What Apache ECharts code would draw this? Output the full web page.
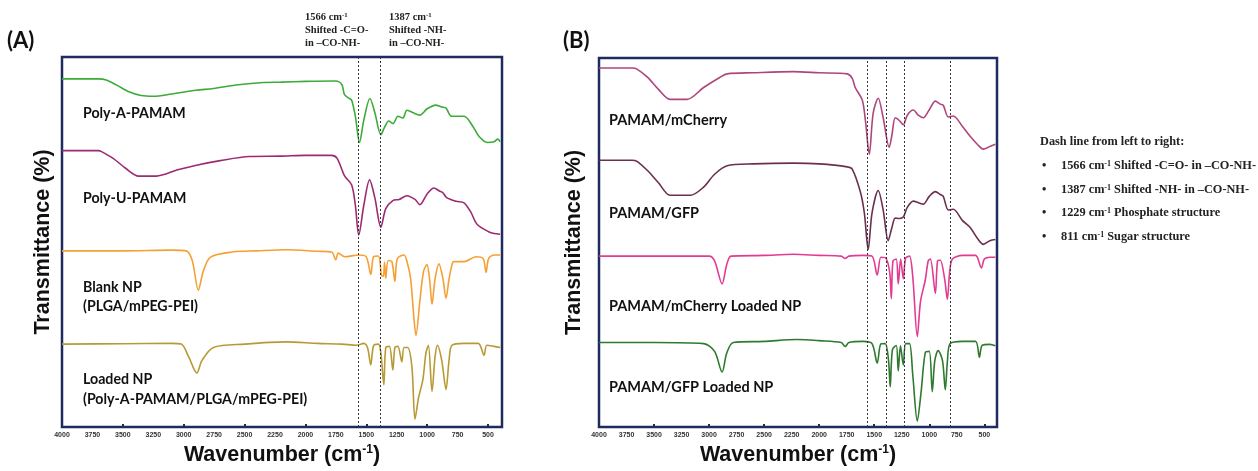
<!DOCTYPE html>
<html><head><meta charset="utf-8">
<script src="https://cdn.jsdelivr.net/npm/echarts@6/dist/echarts.min.js"></script>
<style>html,body{margin:0;padding:0;background:#fff}#c{width:1258px;height:471px}</style>
</head><body><div id="c"></div>
<script>
// ---- tick labels ----
const tickLabels = [4000,3750,3500,3250,3000,2750,2500,2250,2000,1750,1500,1250,1000,750,500];
const tickMarks = [4000,3500,3000,2500,2000,1500,1000,500];
const dashLinesA = [1566,1387];
const dashLinesB = [1566,1387,1229,811];

// ---- series names ----
const namesA = ['Poly-A-PAMAM','Poly-U-PAMAM','Blank NP (PLGA/mPEG-PEI)','Loaded NP (Poly-A-PAMAM/PLGA/mPEG-PEI)'];
const namesB = ['PAMAM/mCherry','PAMAM/GFP','PAMAM/mCherry Loaded NP','PAMAM/GFP Loaded NP'];

// ---- Panel A spectra [wavenumber, offset transmittance] ----
const polyA = [[4000,94.1],[3700,94.1],[3637,93.8],[3550,92.4],[3450,90.6],[3350,89.6],[3250,89.4],[3100,90.0],[2900,91.0],[2756,91.5],[2550,92.5],[2344,93.1],[2200,93.2],[2000,93.4],[1750,93.5],[1700,92.5],[1680,89.9],[1640,88.8],[1620,88.3],[1590,84],[1556,76.9],[1520,83],[1470,88.8],[1430,85],[1380,79.0],[1350,81],[1315,82.7],[1280,82],[1240,84],[1200,83.5],[1166,85.6],[1120,85],[1060,84.3],[1000,86],[930,87.0],[880,86.5],[845,86.2],[800,84.0],[697,84.0],[620,81],[573,78.5],[507,76.9],[450,77.1],[420,77.8],[400,77.1]];
const polyU = [[4000,74.7],[3700,74.7],[3679,74.5],[3580,72.6],[3480,70.0],[3370,67.8],[3225,67.8],[3050,69.5],[2904,70.7],[2700,72.0],[2460,73.1],[2200,73.2],[2000,73.4],[1785,73.4],[1740,72.6],[1677,67.8],[1620,65.4],[1590,60],[1562,51.9],[1520,60],[1473,66.8],[1430,62],[1380,54.0],[1340,59],[1282,61.2],[1230,61.5],[1166,62.5],[1100,61.5],[1060,60.1],[1000,63],[944,64.6],[900,63.8],[870,63.3],[840,62.0],[760,61],[697,60.6],[640,58],[590,54.8],[491,52.7],[450,52.3],[400,52.1]];
const blankNP = [[4000,47.6],[3500,47.6],[3100,47.8],[2980,47.6],[2930,45],[2880,37.0],[2840,42],[2780,45.9],[2600,47.3],[2400,47.6],[2163,47.9],[1900,47.5],[1785,47.3],[1751,45.2],[1730,47.0],[1677,46.0],[1562,46.5],[1500,46],[1463,41.2],[1440,46],[1400,46.2],[1375,41],[1360,40.7],[1350,44.5],[1340,40.2],[1320,45.0],[1290,44.7],[1265,39.4],[1245,45.5],[1190,46.5],[1160,44],[1135,39.9],[1110,30],[1092,24.7],[1060,34],[1030,42],[1002,43.9],[980,40],[960,33.2],[935,40],[903,44.1],[870,40],[845,34.8],[820,40],[790,44.5],[770,44.7],[697,44.7],[600,46.0],[540,45.5],[516,41.8],[495,45.5],[450,46.5],[400,46.5]];
const loadedNP = [[4000,22.4],[3500,22.5],[3100,22.6],[3020,22.4],[2960,19],[2892,14.6],[2850,18],[2756,21.5],[2500,22.4],[2163,23.0],[1900,22.6],[1700,22.4],[1578,22.1],[1520,22.6],[1490,21.5],[1463,16.8],[1440,22],[1400,22.4],[1380,20],[1356,11.4],[1340,21.5],[1310,21.8],[1282,15.4],[1265,21.5],[1240,21.8],[1208,17.6],[1190,21.5],[1160,21.5],[1125,16.2],[1100,2.1],[1070,8],[1035,12.8],[1010,20],[990,22.1],[960,9.6],[935,19],[915,22.1],[880,18],[845,10.1],[820,18],[796,22.1],[700,22.6],[580,22.6],[533,19.4],[510,22.1],[450,21.8],[400,21.5]];

// ---- Panel B spectra ----
const mCherry = [[4000,97.3],[3700,97.3],[3655,97.0],[3560,94.8],[3460,91.5],[3355,88.8],[3200,88.8],[3050,92],[2900,94.8],[2836,95.7],[2600,96.0],[2236,96.3],[2000,96.0],[1745,95.7],[1700,94.5],[1673,92.0],[1609,88.6],[1580,83],[1545,73.9],[1510,85],[1464,89.1],[1420,84],[1364,75.8],[1340,79],[1309,83.8],[1270,83],[1236,81.9],[1200,84.5],[1145,85.9],[1100,84.5],[1055,83.8],[1000,86],[945,88.3],[900,87.5],[873,87.2],[827,84.0],[782,84.3],[700,81.5],[627,78.7],[560,76.5],[509,75.3],[450,76.0],[400,76.6]];
const gfp = [[4000,72.3],[3700,72.3],[3655,72.0],[3560,69.5],[3460,66.2],[3355,62.8],[3170,62.8],[3050,65],[2950,68.5],[2836,70.8],[2600,71.3],[2236,71.5],[2000,71.3],[1745,70.5],[1700,69.9],[1627,63.8],[1590,58],[1555,48.1],[1520,58],[1464,64.1],[1420,59],[1373,50.5],[1340,54],[1309,56.6],[1270,56.5],[1236,56.9],[1200,59.5],[1145,61.2],[1100,60.8],[1055,60.4],[1000,62.5],[945,63.8],[900,63.0],[873,62.5],[827,58.8],[782,59.0],[700,56],[627,54.0],[560,51],[509,49.5],[450,50.5],[400,50.8]];
const mCherryNP = [[4000,46.3],[3500,46.3],[3000,46.3],[2950,45],[2882,38.8],[2840,44],[2800,46.3],[2500,46.5],[2236,46.8],[2000,46.5],[1800,46.3],[1764,45.7],[1730,46.3],[1600,46.5],[1520,46.3],[1473,41.2],[1440,46],[1400,45.9],[1360,42],[1345,34.8],[1330,45],[1300,45.5],[1282,38.8],[1260,45.5],[1236,40.2],[1215,45.8],[1180,46.3],[1150,40.7],[1109,24.5],[1080,34],[1036,39.9],[1010,45.0],[990,45.5],[945,36.2],[925,45],[900,45.2],[860,40],[836,34.6],[815,42],[790,45.5],[700,46.5],[580,46.5],[527,43.1],[500,45.5],[450,46.0],[400,46.0]];
const gfpNP = [[4000,22.9],[3500,22.9],[3050,22.6],[2950,20.5],[2882,14.9],[2840,20],[2780,22.9],[2500,23.2],[2200,23.7],[2000,23.4],[1800,22.9],[1764,21.8],[1730,22.9],[1600,23.2],[1520,22.6],[1473,17.3],[1440,22.5],[1400,22.6],[1370,18],[1355,10.9],[1335,21],[1300,22.1],[1282,15.2],[1262,22],[1236,16.8],[1215,22.6],[1180,22.6],[1150,14.1],[1109,1.6],[1075,9.3],[1036,20.2],[1000,20.5],[973,9.6],[950,18],[920,20.7],[880,18],[855,10.1],[835,18],[810,22.6],[700,23.2],[580,23.2],[545,18.9],[520,22.1],[450,22.4],[400,22.0]];

const colorsA = ['#3dab3a','#9c2a73','#f5a033','#b89a35'];
const colorsB = ['#b0457d','#6b2f4f','#e13b92','#2f7a30'];

const chart = echarts.init(document.getElementById('c'), null, {renderer:'canvas'});
const navy = '#1f2b5e';
function xAx(gi){
  return {
    type:'value', gridIndex:gi, inverse:true, min:385, max:4000,
    axisLine:{show:false},
    axisTick:{show:true, inside:true, length:3, customValues:tickMarks, lineStyle:{color:navy,width:2}},
    axisLabel:{customValues:tickLabels, formatter:v=>String(v), fontSize:7, fontWeight:'bold', fontFamily:'Liberation Sans', color:'#333', margin:5},
    splitLine:{show:false},
    name:'Wavenumber (cm{s|-1})', nameLocation:'middle', nameGap:17,
    nameTextStyle:{fontSize:21.5, fontWeight:'bold', fontFamily:'Liberation Sans', color:'#111',
      rich:{s:{fontSize:12, fontWeight:'bold', fontFamily:'Liberation Sans', verticalAlign:'top', color:'#111'}}}
  };
}
function yAx(gi, gap){
  return {
    type:'value', gridIndex:gi, min:0, max:100,
    axisLine:{show:false}, axisTick:{show:false}, axisLabel:{show:false}, splitLine:{show:false},
    name:'Transmittance (%)', nameLocation:'middle', nameGap:gap,
    nameTextStyle:{fontSize:21.5, fontWeight:'bold', fontFamily:'Liberation Sans', color:'#111'}
  };
}
function ser(name, data, color, gi, marks){
  const s = {type:'line', name, data, xAxisIndex:gi, yAxisIndex:gi, showSymbol:false, smooth:0.3,
    lineStyle:{color, width:1.6}, itemStyle:{color}, silent:true, z:3};
  if (marks) s.markLine = {silent:true, symbol:'none', label:{show:false},
    lineStyle:{color:'#333', type:[2,2], width:1}, data: marks.map(v=>({xAxis:v}))};
  return s;
}
const seriesDataA = [polyA, polyU, blankNP, loadedNP];
const seriesDataB = [mCherry, gfp, mCherryNP, gfpNP];
const series = [];
seriesDataA.forEach((d,i)=>series.push(ser(namesA[i], d, colorsA[i], 0, i===0?dashLinesA:null)));
seriesDataB.forEach((d,i)=>series.push(ser(namesB[i], d, colorsB[i], 1, i===0?dashLinesB:null)));

function lbl(x,y,text,fs){ return {type:'text', x, y, style:{text, verticalAlign:'middle', fontSize:fs, fontWeight:'bold', fontFamily:'Lato', fill:'#111'}}; }
const serif = 'Liberation Serif';
function stxt(x,y,text,fs){
  const f = fs||10.5;
  return {type:'text', x, y, style:{text, fontSize:f, fontWeight:'bold', fontFamily:serif, fill:'#222', verticalAlign:'middle',
    rich:{s:{fontSize:f*0.65, fontWeight:'bold', fontFamily:serif, verticalAlign:'top', fill:'#222'}}}};
}

chart.setOption({
  animation:false,
  backgroundColor:'#fff',
  grid:[
    {left:62, right:756, top:57, bottom:38, show:true, borderColor:navy, borderWidth:2.5, backgroundColor:'transparent'},
    {left:599, right:261, top:58, bottom:39, show:true, borderColor:navy, borderWidth:2.5, backgroundColor:'transparent'}
  ],
  xAxis:[xAx(0), xAx(1)],
  yAxis:[yAx(0,8), yAx(1,14)],
  series,
  graphic:[
    {type:'text', x:7, y:41, style:{text:'(A)', fontSize:22, fontWeight:'bold', fontFamily:'Lato', fill:'#111', verticalAlign:'middle'}},
    {type:'text', x:563, y:41, style:{text:'(B)', fontSize:22, fontWeight:'bold', fontFamily:'Lato', fill:'#111', verticalAlign:'middle'}},
    stxt(305,17,'1566 cm{s|-1}'), stxt(305,30,'Shifted -C=O-'), stxt(305,43,'in –CO-NH-'),
    stxt(389,17,'1387 cm{s|-1}'), stxt(389,30,'Shifted -NH-'), stxt(389,43,'in –CO-NH-'),
    lbl(83,113,'Poly-A-PAMAM',14.2), lbl(83,198,'Poly-U-PAMAM',14.2), lbl(83,287,'Blank NP',14.2), lbl(83,306,'(PLGA/mPEG-PEI)',14.2),
    lbl(83,379,'Loaded NP',14.2), lbl(83,399,'(Poly-A-PAMAM/PLGA/mPEG-PEI)',14.2),
    lbl(609,120,'PAMAM/mCherry',14.5), lbl(609,213,'PAMAM/GFP',14.5), lbl(609,306,'PAMAM/mCherry Loaded NP',14.5), lbl(609,387,'PAMAM/GFP Loaded NP',14.5),
    stxt(1040,142,'Dash line from left to right:',12.3),
    stxt(1042,166,'•',12.3), stxt(1061,166,'1566 cm{s|-1} Shifted -C=O- in –CO-NH-',12.3),
    stxt(1042,190,'•',12.3), stxt(1061,190,'1387 cm{s|-1} Shifted -NH- in –CO-NH-',12.3),
    stxt(1042,213,'•',12.3), stxt(1061,213,'1229 cm{s|-1} Phosphate structure',12.3),
    stxt(1042,237,'•',12.3), stxt(1061,237,'811 cm{s|-1} Sugar structure',12.3)
  ]
});
</script></body></html>
